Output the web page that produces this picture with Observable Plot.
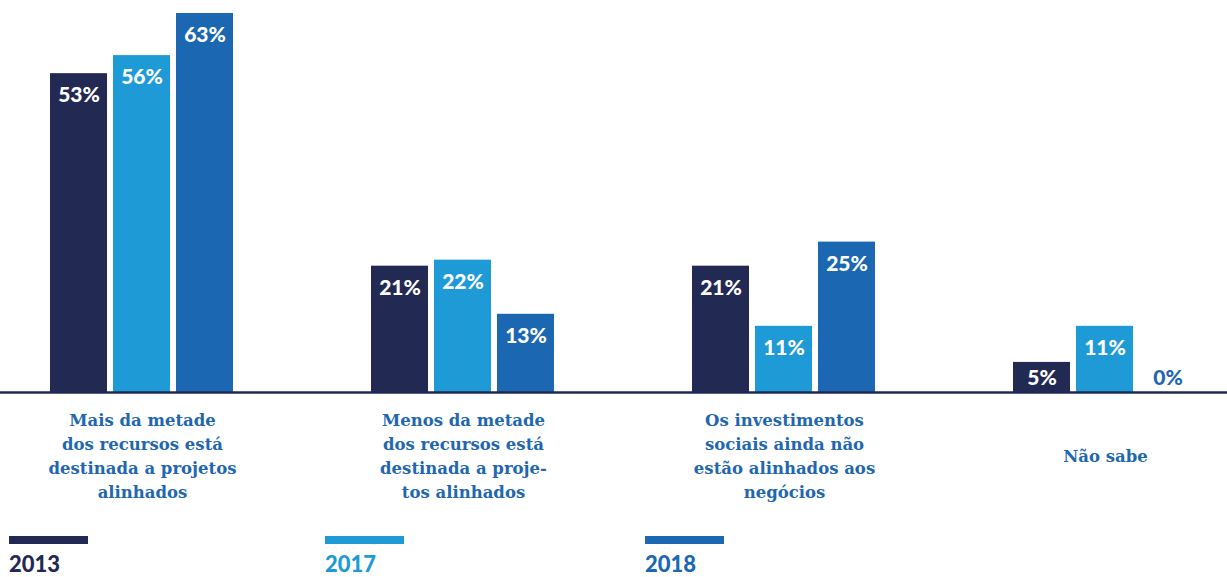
<!DOCTYPE html>
<html>
<head>
<meta charset="utf-8">
<script src="https://cdn.jsdelivr.net/npm/d3@7"></script>
<script src="https://cdn.jsdelivr.net/npm/@observablehq/plot@0.6"></script>
<style>
  html, body { margin: 0; padding: 0; background: #ffffff; overflow: hidden; }
  #chart svg { display: block; }
  .legend { display: flex; padding-left: 9px; margin-top: 16px; font-family: Lato, sans-serif; font-weight: 900; font-size: 22px; line-height: 1; }
  .legend .item { display: flex; flex-direction: column; }
  .legend .sw { width: 79px; height: 8px; margin-bottom: 9px; }
</style>
</head>
<body>
<div id="chart"></div>
<div class="legend" id="legend"></div>
<script>
const categories = ["c1", "c2", "c3", "c4"];
const categoryLabels = [
  "Mais da metade\ndos recursos está\ndestinada a projetos\nalinhados",
  "Menos da metade\ndos recursos está\ndestinada a proje-\ntos alinhados",
  "Os investimentos\nsociais ainda não\nestão alinhados aos\nnegócios",
  "Não sabe"
];
const years = ["2013", "2017", "2018"];
const values2013 = [53, 21, 21, 5];
const values2017 = [56, 22, 11, 11];
const values2018 = [63, 13, 25, 0];
const yearColors = ["#222a54", "#1e9ad6", "#1b67b1"];
const navy = "#222a54";
const labelBlue = "#1f67b0";

const seriesValues = [values2013, values2017, values2018];
const data = [];
categories.forEach((c, i) => {
  years.forEach((y, j) => data.push({category: c, year: y, value: seriesValues[j][i]}));
});
const labelData = categories.map((c, i) => ({category: c, label: categoryLabels[i]}));

const plot = Plot.plot({
  width: 1227,
  height: 520,
  marginTop: 13,
  marginBottom: 128,
  marginLeft: 43,
  marginRight: 22,
  fx: {domain: categories, paddingInner: 0.383, paddingOuter: 0, axis: null, label: null},
  x: {domain: years, padding: 0.094, axis: null},
  y: {domain: [0, 63], axis: null},
  color: {domain: years, range: yearColors},
  marks: [
    Plot.barY(data, {fx: "category", x: "year", y: "value", fill: "year"}),
    Plot.text(data.filter(d => d.value > 0), {
      fx: "category", x: "year", y: d => Math.max(d.value, 6), dy: 22,
      text: d => d.value + "%", fill: "white",
      fontSize: 21, fontWeight: 900, fontFamily: "Lato, sans-serif"
    }),
    Plot.text(data.filter(d => d.value === 0), {
      fx: "category", x: "year", y: d => Math.max(d.value, 6), dy: 22,
      text: d => d.value + "%", fill: labelBlue,
      fontSize: 21, fontWeight: 900, fontFamily: "Lato, sans-serif"
    }),
    Plot.text(labelData, {
      fx: "category", text: "label", frameAnchor: "bottom", dy: 62,
      lineAnchor: "middle", lineHeight: 1.45, fill: labelBlue,
      fontSize: 16.5, fontWeight: "bold", fontFamily: "DejaVu Serif, serif"
    })
  ]
});

// full-width baseline at y = 0 using the plot's y scale
const y0 = plot.scale("y").apply(0);
d3.select(plot).append("line")
  .attr("x1", 0).attr("x2", 1227)
  .attr("y1", y0 + 0.5).attr("y2", y0 + 0.5)
  .attr("stroke", navy).attr("stroke-width", 2.5);

document.getElementById("chart").appendChild(plot);

const legend = d3.select("#legend");
const itemWidths = [316, 320, 320];
years.forEach((y, i) => {
  const item = legend.append("div").attr("class", "item").style("width", itemWidths[i] + "px");
  item.append("div").attr("class", "sw").style("background", yearColors[i]);
  item.append("div").style("color", yearColors[i]).text(y);
});
</script>
</body>
</html>
